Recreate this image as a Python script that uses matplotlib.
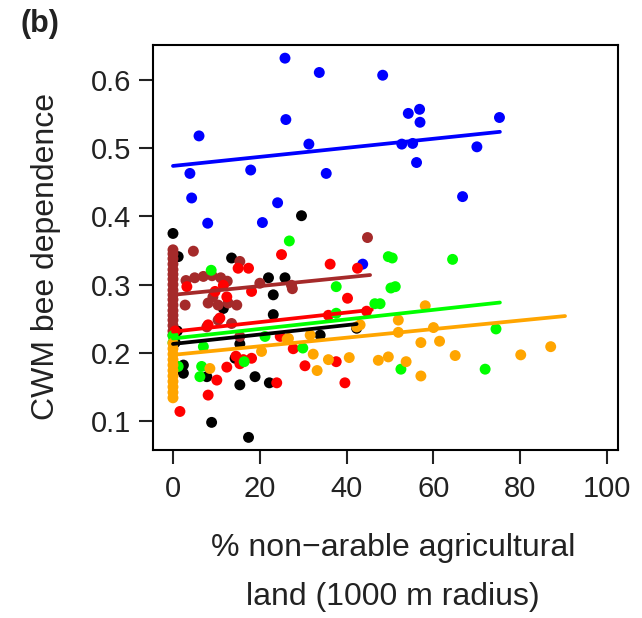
import numpy as np
import matplotlib
matplotlib.use("Agg")
import matplotlib.pyplot as plt

plt.rcParams['font.family'] = ['Liberation Sans', 'DejaVu Sans']

# CWM bee dependence vs % non-arable agricultural land, one colour per group
blue_x = [25.8, 33.7, 48.3, 56.8, 54.2, 56.9, 75.2, 6.0, 26.0, 31.3, 52.7, 55.2,
          70.0, 56.1, 3.9, 17.9, 35.3, 4.3, 24.1, 66.7, 8.0, 20.6, 43.7]
blue_y = [0.632, 0.611, 0.607, 0.557, 0.551, 0.538, 0.545, 0.518, 0.542, 0.506, 0.506, 0.507,
          0.502, 0.479, 0.463, 0.468, 0.463, 0.427, 0.420, 0.429, 0.390, 0.391, 0.330]

black_x = [0, 29.6, 1.2, 13.5, 22.0, 25.8, 23.1, 11.6, 23.1, 42.3, 33.9, 15.4, 14.3,
           2.4, 2.4, 7.8, 18.9, 15.4, 22.2, 8.9, 17.4, 0.5, 1.0]
black_y = [0.375, 0.401, 0.341, 0.339, 0.310, 0.310, 0.285, 0.265, 0.256, 0.236, 0.226, 0.213, 0.192,
           0.182, 0.170, 0.165, 0.165, 0.153, 0.156, 0.098, 0.076, 0.215, 0.232]

brown_x = [0, 0, 0, 0, 0, 0, 0, 0, 0, 0, 0, 0, 0, 0, 0, 0, 0, 0,
           4.7, 15.4, 3.0, 5.0, 7.0, 9.0, 11.0, 12.5, 2.8, 8.1, 10.4, 12.7, 14.7,
           9.2, 20.0, 27.3, 27.5, 44.8, 10.4, 13.5, 7.8, 15.4]
brown_y = [0.351, 0.345, 0.338, 0.330, 0.322, 0.315, 0.308, 0.300, 0.292, 0.285, 0.278, 0.270,
           0.262, 0.255, 0.248, 0.240, 0.232, 0.226,
           0.349, 0.334, 0.306, 0.310, 0.312, 0.313, 0.310, 0.305, 0.270, 0.273, 0.270, 0.273, 0.270,
           0.282, 0.302, 0.299, 0.294, 0.369, 0.248, 0.243, 0.238, 0.224]

red_x = [25.0, 36.2, 42.5, 15.0, 17.4, 40.2, 44.6, 35.8, 3.2, 9.7, 11.6, 18.1, 12.4,
         8.1, 10.8, 24.7, 27.7, 37.6, 30.4, 23.9, 39.6, 14.5, 16.2, 18.1, 15.4, 12.4,
         10.1, 8.1, 1.6, 0.5]
red_y = [0.344, 0.330, 0.324, 0.324, 0.324, 0.280, 0.261, 0.255, 0.297, 0.290, 0.299, 0.290, 0.282,
         0.241, 0.251, 0.224, 0.206, 0.187, 0.181, 0.156, 0.156, 0.195, 0.190, 0.192, 0.184, 0.179,
         0.160, 0.138, 0.114, 0.232]

green_x = [26.8, 8.8, 37.6, 46.5, 37.6, 49.6, 50.5, 64.4, 51.2, 50.2, 47.7, 74.4, 52.5,
           71.9, 29.9, 21.2, 7.0, 1.2, 6.6, 6.2, 16.4, 0, 0]
green_y = [0.364, 0.321, 0.297, 0.272, 0.258, 0.341, 0.339, 0.337, 0.297, 0.295, 0.272, 0.235, 0.176,
           0.176, 0.207, 0.224, 0.209, 0.180, 0.180, 0.165, 0.187, 0.225, 0.215]

orange_x = [0, 0, 0, 0, 0, 0, 0, 0, 0, 0, 0,
            8.5, 20.4, 26.6, 31.6, 32.3, 35.8, 33.2, 40.6, 42.3, 43.1, 47.3, 49.6, 53.7,
            51.9, 51.9, 58.1, 60.0, 57.1, 61.4, 65.0, 57.1, 80.1, 87.0, 26.3]
orange_y = [0.214, 0.206, 0.198, 0.190, 0.182, 0.174, 0.166, 0.158, 0.150, 0.142, 0.134,
            0.177, 0.202, 0.221, 0.226, 0.198, 0.190, 0.174, 0.193, 0.238, 0.241, 0.189, 0.194, 0.187,
            0.248, 0.230, 0.269, 0.237, 0.215, 0.217, 0.196, 0.166, 0.197, 0.209, 0.220]

# fitted lines: intercept, slope, right end
fit_intercept = [0.474, 0.213, 0.285, 0.231, 0.221, 0.197]
fit_slope = [0.000664, 0.00069, 0.00064, 0.0007, 0.0007, 0.00063]
fit_end = [75.3, 42.3, 45.4, 45.8, 75.3, 90.3]

groups = [
    (blue_x, blue_y, 'blue'),
    (black_x, black_y, 'black'),
    (brown_x, brown_y, 'brown'),
    (red_x, red_y, 'red'),
    (green_x, green_y, 'lime'),
    (orange_x, orange_y, 'orange'),
]

fig = plt.figure(figsize=(6.42, 6.18), dpi=100)
ax = fig.add_axes([153/642, 1 - 450/618, 465/642, 405/618])

for (gx, gy, col) in groups:
    ax.scatter(gx, gy, s=62, color=col, edgecolors='none', zorder=2)

for (gx, gy, col), b0, b1, xe in zip(groups, fit_intercept, fit_slope, fit_end):
    xs = np.array([0, xe])
    ax.plot(xs, b0 + b1*xs, color=col, lw=2.7, solid_capstyle='round', zorder=3)

ax.set_xlim(-4.6, 102.5)
ax.set_ylim(0.0575, 0.6513)
ax.set_xticks([0, 20, 40, 60, 80, 100])
ax.set_yticks([0.1, 0.2, 0.3, 0.4, 0.5, 0.6])
ax.set_yticklabels(['0.1', '0.2', '0.3', '0.4', '0.5', '0.6'])
for s in ax.spines.values():
    s.set_linewidth(1.5)
ax.tick_params(direction='out', length=10, width=1.5, labelsize=21, pad=6, colors='#222222')
ax.tick_params(axis='x', pad=8)

fig.text(0.072, (618 - 256)/618, 'CWM bee dependence', rotation=90, fontsize=23,
         ha='center', va='center', color='#222222')
fig.text(393/642, (618 - 548)/618, '% non\u2212arable agricultural', fontsize=23,
         ha='center', va='center', color='#222222')
fig.text(393/642, (618 - 597)/618, 'land (1000 m radius)', fontsize=23,
         ha='center', va='center', color='#222222')
fig.text(20/642, (618 - 24)/618, '(b)', fontsize=22, fontweight='bold',
         ha='left', va='center', color='#222222')

fig.savefig('out.png', dpi=100)
